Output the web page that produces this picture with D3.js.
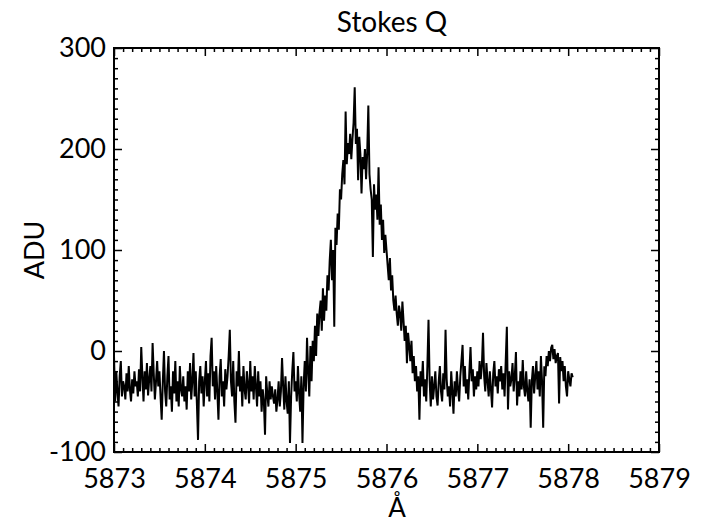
<!DOCTYPE html>
<html>
<head>
<meta charset="utf-8">
<script src="https://cdn.jsdelivr.net/npm/d3@7"></script>
<style>
  body { margin: 0; background: #fff; }
  svg text { font-family: Lato, "Open Sans", sans-serif; fill: #000; }
</style>
</head>
<body>
<div id="chart"></div>
<script>
/* CONSTANTS AND GLOBALS */
const width = 708,
  height = 523,
  margin = { top: 48, bottom: 71, left: 114, right: 49 };

// wavelength grid of the spectrum (Angstrom)
const waveStart = 5873.0;
const waveStep = 0.0125;

// tick labels
const xTicks = [5873, 5874, 5875, 5876, 5877, 5878, 5879];
const yTicks = [-100, 0, 100, 200, 300];

// Stokes Q signal (ADU), one value per wavelength step
const stokesQ = [
  -5, -50, -20, -40, -55, -25, -10, -45, -30, -35, -48, -22, -40, -15, -38, -50, -28, -42, -20, -35,
  -30, -45, -18, -40, 4, -25, -50, -20, -38, -12, -44, -28, -15, -40, 8, -22, -48, -30, -10, -35,
  -20, -45, -68, -30, 0, -40, -55, -25, -5, -48, -35, -60, -20, -42, -10, -50, -30, -55, -15, -38,
  -45, -25, -50, -35, -58, -20, -40, -12, -48, -30, -2, -45, -20, -52, -88, -30, -15, -42, -25, -55,
  -30, -10, -45, -22, -50, -5, 13, -35, -20, -48, -15, -40, -68, -25, -8, -45, -30, -55, -18, -38,
  -25, -5, 21, -30, -45, -10, -50, -71, -20, -35, 0, -40, -25, -55, -15, -38, -48, -20, -33, -52,
  -10, -40, -25, -48, -15, -35, -55, -20, -45, -30, -60, -38, -50, -83, -25, -42, -55, -30, -48, -35,
  -45, -52, -38, -60, -48, -30, -55, -40, -7, -35, -58, -25, -50, -62, -30, -91, -45, -20, -1, -40,
  -30, -50, -15, -42, -60, -25, -91, -35, -10, -40, 13, -20, -45, 5, -30, 10, -10, 25, -5, 37,
  15, 38, 50, 20, 62, 30, 55, 40, 75, 60, 90, 110, 70, 100, 24, 122, 105, 136, 120, 160,
  150, 175, 189, 165, 237, 185, 206, 195, 215, 190, 210, 226, 261, 205, 220, 169, 212, 195, 156, 192,
  180, 200, 170, 196, 243, 175, 160, 150, 93, 165, 140, 155, 130, 182, 125, 145, 110, 130, 97, 115,
  100, 85, 70, 92, 60, 75, 50, 40, 55, 37, 25, 45, 37, 20, 49, 30, 10, 25, -12, 18,
  5, -10, 10, -22, -5, -30, -15, -40, -25, -68, -20, -35, -10, -45, -28, -50, -15, 31, -30, -55,
  -25, -48, -35, -20, -45, -54, -30, -15, -40, -50, -22, -38, 21, -28, -45, -35, -55, -20, -40, -62,
  -30, -45, -20, -38, -50, -25, -10, 6, -35, -15, -42, -28, -48, -20, 4, -30, -18, -45, -25, -38,
  -20, -35, -10, -28, -15, 18, -25, -40, -12, -30, -45, -20, -38, -56, -22, -10, -35, -25, -42, -18,
  -30, -15, -38, -22, -45, -10, 24, -58, -20, -35, -28, -12, -40, -25, -1, -54, -30, -45, -20, -38,
  -9, -35, -45, -20, -40, -50, -28, -76, -30, -15, -42, -25, -10, -38, -20, -45, -5, -30, -76, -15,
  -25, -5, -15, 0, -10, 3, 6, -8, 2, -12, -5, -2, -52, -6, -20, -10, -30, -15, -35, -45, -20, -28, -35, -22, -26
];

const data = stokesQ.map((v, i) => ({ wave: waveStart + i * waveStep, q: v }));

/* SCALES */
const xScale = d3.scaleLinear()
  .domain([xTicks[0], xTicks[xTicks.length - 1]])
  .range([margin.left, width - margin.right]);

const yScale = d3.scaleLinear()
  .domain([yTicks[0], yTicks[yTicks.length - 1]])
  .range([height - margin.bottom, margin.top]);

// minor ticks every tenth of a major step
const xMinor = d3.range(0, (xTicks.length - 1) * 10 + 1)
  .map(k => xTicks[0] + k * 0.1)
  .filter(d => Math.abs(d - Math.round(d)) > 1e-6);
const yMinor = d3.range(0, (yTicks.length - 1) * 10 + 1)
  .map(k => yTicks[0] + k * 10)
  .filter(d => d % 100 !== 0);

// plain hyphen for negatives, like the original
const fmt = d => String(d);

/* SVG */
const svg = d3.select("#chart")
  .append("svg")
  .attr("width", width)
  .attr("height", height);

const plotBottom = height - margin.bottom,
  plotRight = width - margin.right;

// + AXES (ticks point inward on all four sides)
function addAxis(axis, tx, ty) {
  const g = svg.append("g")
    .attr("transform", `translate(${tx},${ty})`)
    .call(axis);
  g.select(".domain").remove();
  g.selectAll(".tick line").attr("stroke", "#000").attr("stroke-width", 1.5);
  return g;
}

// bottom
addAxis(d3.axisBottom(xScale).tickValues(xTicks).tickSize(-8).tickPadding(17)
  .tickFormat(fmt), 0, plotBottom)
  .selectAll("text").style("font-size", "27px");
addAxis(d3.axisBottom(xScale).tickValues(xMinor).tickSize(-4).tickFormat(""), 0, plotBottom);
// top
addAxis(d3.axisTop(xScale).tickValues(xTicks).tickSize(-8).tickFormat(""), 0, margin.top);
addAxis(d3.axisTop(xScale).tickValues(xMinor).tickSize(-4).tickFormat(""), 0, margin.top);
// left
addAxis(d3.axisLeft(yScale).tickValues(yTicks).tickSize(-8).tickPadding(8)
  .tickFormat(fmt), margin.left, 0)
  .selectAll("text").style("font-size", "27px");
addAxis(d3.axisLeft(yScale).tickValues(yMinor).tickSize(-4).tickFormat(""), margin.left, 0);
// right
addAxis(d3.axisRight(yScale).tickValues(yTicks).tickSize(-8).tickFormat(""), plotRight, 0);
addAxis(d3.axisRight(yScale).tickValues(yMinor).tickSize(-4).tickFormat(""), plotRight, 0);

// frame
svg.append("rect")
  .attr("x", margin.left)
  .attr("y", margin.top)
  .attr("width", plotRight - margin.left)
  .attr("height", plotBottom - margin.top)
  .attr("fill", "none")
  .attr("stroke", "#000")
  .attr("stroke-width", 2);

// + LINE
const line = d3.line()
  .x(d => xScale(d.wave))
  .y(d => yScale(d.q));

svg.append("path")
  .datum(data)
  .attr("fill", "none")
  .attr("stroke", "#000")
  .attr("stroke-width", 2)
  .attr("stroke-linejoin", "bevel")
  .attr("d", line);

// + LABELS
svg.append("text")
  .attr("x", 392)
  .attr("y", 32)
  .attr("text-anchor", "middle")
  .style("font-size", "28px")
  .text("Stokes Q");

svg.append("text")
  .attr("x", 397)
  .attr("y", 517)
  .attr("text-anchor", "middle")
  .style("font-size", "26px")
  .text("Å");

svg.append("text")
  .attr("transform", "translate(44,250) rotate(-90)")
  .attr("text-anchor", "middle")
  .style("font-size", "27px")
  .text("ADU");
</script>
</body>
</html>
